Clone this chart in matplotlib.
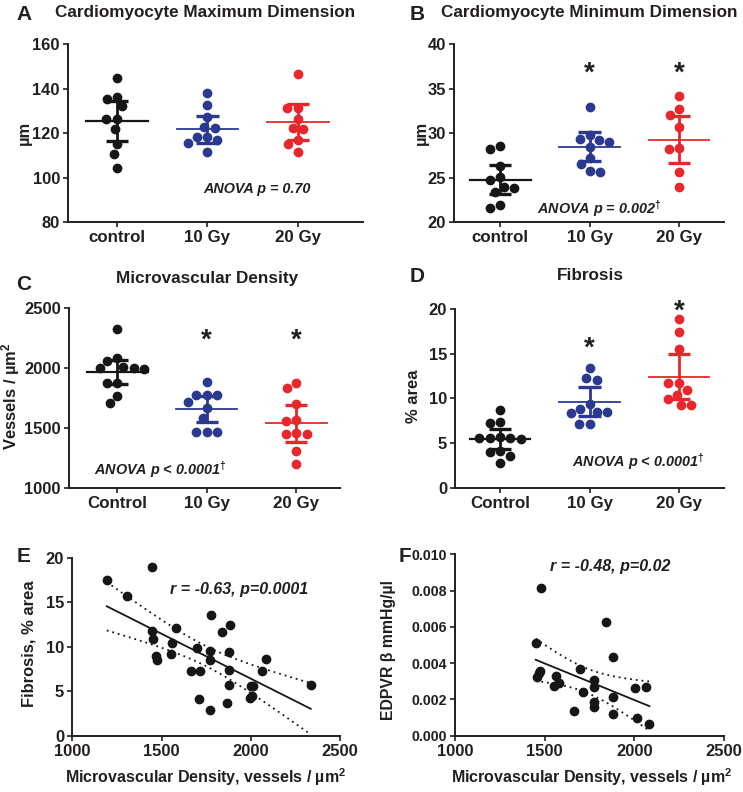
import numpy as np
import matplotlib
matplotlib.use("Agg")
import matplotlib.pyplot as plt

plt.rcParams["font.family"] = ["Liberation Sans", "DejaVu Sans"]
plt.rcParams["font.weight"] = "bold"
plt.rcParams["mathtext.fontset"] = "custom"
plt.rcParams["mathtext.rm"] = "Liberation Sans:bold"
plt.rcParams["mathtext.it"] = "Liberation Sans:bold:italic"
plt.rcParams["mathtext.bf"] = "Liberation Sans:bold"

INK = "#231f20"
BLACK, BLUE, RED = "#161616", "#2b3990", "#e8262b"
GROUP_COLORS = [BLACK, BLUE, RED]

# ---- panel A: cardiomyocyte maximum dimension (um)
a_control = [144.7, 136.5, 135.4, 132.4, 126.4, 126.4, 121.8, 115.2, 110.7, 104.3]
a_10gy = [138.0, 132.6, 127.5, 123.0, 122.2, 118.2, 117.0, 118.5, 115.5, 111.8]
a_20gy = [146.7, 131.5, 131.2, 126.3, 122.0, 122.2, 117.0, 115.0, 111.8]
a_mean = [125.5, 121.8, 125.2]
a_err = [9.1, 6.2, 8.0]

# ---- panel B: cardiomyocyte minimum dimension (um)
b_control = [28.2, 28.6, 26.3, 24.8, 25.1, 23.8, 24.0, 23.4, 21.6, 21.9]
b_10gy = [33.0, 29.2, 29.8, 29.4, 28.5, 29.0, 27.2, 26.6, 25.7, 25.8]
b_20gy = [34.2, 32.7, 32.1, 30.7, 28.3, 28.2, 25.6, 24.0]
b_mean = [24.8, 28.5, 29.3]
b_err = [1.65, 1.6, 2.6]

# ---- panel C: microvascular density (vessels / um2)
c_control = [2327, 2059, 2082, 1998, 1992, 1998, 2011, 1878, 1878, 1769, 1705]
c_10gy = [1881, 1772, 1772, 1775, 1719, 1663, 1580, 1468, 1468, 1468]
c_20gy = [1878, 1836, 1697, 1566, 1560, 1454, 1452, 1450, 1306, 1197]
c_mean = [1967, 1658, 1538]
c_err = [101, 108, 153]

# ---- panel D: fibrosis (% area)
d_control = [8.7, 7.3, 7.2, 5.6, 5.6, 5.6, 5.7, 5.4, 4.1, 4.0, 3.6, 2.8]
d_10gy = [13.44, 12.06, 12.32, 8.81, 9.37, 8.33, 8.51, 8.51, 7.13, 7.13]
d_20gy = [18.9, 17.4, 15.5, 11.7, 11.7, 10.9, 10.4, 9.9, 9.3, 9.2]
d_mean = [5.42, 9.63, 12.43]
d_err = [1.1, 1.62, 2.54]

# ---- panel E: fibrosis vs microvascular density
e_mvd = [1193, 1448, 1308, 1448, 1454, 1467, 1473, 1579, 1559, 1553, 1697,
         1664, 1716, 1708, 1776, 1837, 1884, 1772, 1772, 1876, 1876, 1876,
         1869, 1772, 2000, 2014, 1996, 2005, 2061, 2085, 2336]
e_fib = [17.49, 18.92, 15.70, 11.80, 10.90, 8.96, 8.51, 12.10, 10.45, 9.18,
         9.85, 7.30, 7.24, 4.09, 13.53, 11.69, 12.44, 9.48, 8.51, 9.40, 7.38,
         5.73, 3.64, 2.89, 5.58, 5.58, 4.27, 4.49, 7.24, 8.65, 5.66]

# ---- panel F: EDPVR beta vs microvascular density
f_mvd = [1477, 1841, 1449, 1880, 1697, 1473, 1468, 1455, 1561, 1553, 1581,
         1775, 1775, 1716, 1880, 2005, 2064, 1777, 1775, 1664, 1880, 2014, 2085]
f_edpvr = [0.00816, 0.00629, 0.00510, 0.00436, 0.00366, 0.00359, 0.00344,
           0.00325, 0.00329, 0.00276, 0.00292, 0.00307, 0.00270, 0.00243,
           0.00215, 0.00261, 0.00270, 0.00184, 0.00157, 0.00136, 0.00120,
           0.00099, 0.00063]

T_E, T_F = 2.045, 2.080   # two-sided 95% t quantiles, df = 29 and 21

W, H = 743, 792
fig = plt.figure(figsize=(W / 100, H / 100), dpi=100)


def axes_px(left, top, right, bottom):
    return fig.add_axes([left / W, 1 - bottom / H, (right - left) / W, (bottom - top) / H])


def style(ax):
    for s in ("top", "right"):
        ax.spines[s].set_visible(False)
    for s in ("left", "bottom"):
        ax.spines[s].set_linewidth(1.4)
        ax.spines[s].set_color(INK)
    ax.tick_params(direction="out", length=3.8, width=1.2, color=INK,
                   labelsize=11.9, labelcolor=INK, pad=2)


def swarm_offsets(ax, vals, diam_px=10.5):
    yp = ax.transData.transform(np.column_stack([np.zeros(len(vals)), vals]))[:, 1]
    ppu = ax.transData.transform((1, 0))[0] - ax.transData.transform((0, 0))[0]
    placed = []
    offs = np.zeros(len(vals))
    for i in np.argsort(-np.asarray(vals, float), kind="stable"):
        cands = [0.0]
        for px, py in placed:
            dy = yp[i] - py
            if abs(dy) < diam_px:
                dx = np.sqrt(diam_px ** 2 - dy ** 2)
                cands += [px - dx, px + dx]
        cands.sort(key=abs)
        for c in cands:
            if all((c - px) ** 2 + (yp[i] - py) ** 2 >= diam_px ** 2 - 1e-6 for px, py in placed):
                offs[i] = c
                placed.append((c, yp[i]))
                break
    return offs / ppu


def dot_panel(ax, groups, means, errs, labels, ylim, yticks, xlim):
    style(ax)
    ax.set_xlim(*xlim)
    ax.set_ylim(*ylim)
    ax.set_yticks(yticks)
    ax.set_xticks(range(len(labels)))
    ax.set_xticklabels(labels, fontsize=12.2)
    for i, (vals, m, e, col) in enumerate(zip(groups, means, errs, GROUP_COLORS)):
        xo = i + swarm_offsets(ax, vals)
        ax.plot(xo, vals, "o", ms=6.0, color=col, mec=col, zorder=3, clip_on=False)
        ax.plot([i - 0.34, i + 0.34], [m, m], color=col, lw=1.6 if i == 0 else 1.3, zorder=4)
        ax.plot([i, i], [m - e, m + e], color=col, lw=2.0, zorder=4)
        for yy in (m - e, m + e):
            ax.plot([i - 0.125, i + 0.125], [yy, yy], color=col, lw=2.4,
                    solid_capstyle="butt", zorder=4)


def star(ax, x, y):
    ax.annotate("*", (x, y), xytext=(0, -11.5), textcoords="offset points",
                ha="center", va="baseline", fontsize=20, color=INK,
                annotation_clip=False)


def fit_panel(ax, x, y, t):
    style(ax)
    x = np.asarray(x, float)
    y = np.asarray(y, float)
    n = len(x)
    b, a = np.polyfit(x, y, 1)
    xs = np.linspace(x.min(), x.max(), 120)
    yh = a + b * xs
    s = np.sqrt(np.sum((y - (a + b * x)) ** 2) / (n - 2))
    se = s * np.sqrt(1 / n + (xs - x.mean()) ** 2 / np.sum((x - x.mean()) ** 2))
    ax.plot(x, y, "o", ms=6.0, color=BLACK, zorder=3, clip_on=False)
    ax.plot(xs, yh, color=BLACK, lw=1.3, zorder=2)
    for band in (yh - t * se, yh + t * se):
        ax.plot(xs, band, color=BLACK, lw=1.3, ls=(0, (1, 2.2)), zorder=2)


# ---- A
axA = axes_px(68, 44.3, 363, 222.3)
dot_panel(axA, [a_control, a_10gy, a_20gy], a_mean, a_err,
          ["control", "10 Gy", "20 Gy"], (80, 160), range(80, 161, 20), (-0.54, 2.72))
axA.text(1.55, 95, "ANOVA p = 0.70", ha="center", va="center", fontsize=10.4,
         style="italic", color=INK)

# ---- B
axB = axes_px(453.7, 44.3, 723.7, 222.3)
dot_panel(axB, [b_control, b_10gy, b_20gy], b_mean, b_err,
          ["control", "10 Gy", "20 Gy"], (20, 40), range(20, 41, 5), (-0.52, 2.5))
axB.text(0.41, 21.5, "ANOVA p = 0.002$^{†}$", ha="left", va="center", fontsize=10.4,
         style="italic", color=INK)
star(axB, 1, 37.7)
star(axB, 2, 37.7)

# ---- C
axC = axes_px(69, 308.3, 340, 487.7)
dot_panel(axC, [c_control, c_10gy, c_20gy], c_mean, c_err,
          ["Control", "10 Gy", "20 Gy"], (1000, 2500), range(1000, 2501, 500), (-0.54, 2.49))
axC.text(-0.26, 1150, "ANOVA p < 0.0001$^{†}$", ha="left", va="center", fontsize=10.4,
         style="italic", color=INK)
star(axC, 1, 2304)
star(axC, 2, 2304)

# ---- D
axD = axes_px(455.3, 309, 723.7, 487.7)
dot_panel(axD, [d_control, d_10gy, d_20gy], d_mean, d_err,
          ["Control", "10 Gy", "20 Gy"], (0, 20), range(0, 21, 5), (-0.5, 2.5))
axD.text(0.80, 2.9, "ANOVA p < 0.0001$^{†}$", ha="left", va="center", fontsize=10.4,
         style="italic", color=INK)
star(axD, 1, 16.6)
star(axD, 2, 20.7)

# ---- E
axE = axes_px(72.3, 557.7, 340, 735.7)
fit_panel(axE, e_mvd, e_fib, T_E)
axE.set_xlim(1000, 2500)
axE.set_ylim(0, 20)
axE.set_xticks(range(1000, 2501, 500))
axE.set_yticks(range(0, 21, 5))
axE.text(1547, 16.4, "r = -0.63, p=0.0001", ha="left", va="center", fontsize=11.5,
         style="italic", color=INK)

# ---- F
axF = axes_px(455.3, 554.3, 723.7, 735.7)
fit_panel(axF, f_mvd, f_edpvr, T_F)
axF.set_xlim(1000, 2500)
axF.set_ylim(0, 0.010)
axF.set_xticks(range(1000, 2501, 500))
axF.set_yticks(np.arange(0, 0.0101, 0.002))
axF.yaxis.set_major_formatter(matplotlib.ticker.FormatStrFormatter("%.3f"))
axF.tick_params(axis="y", labelsize=10.2)
axF.text(1529, 0.0093, "r = -0.48, p=0.02", ha="left", va="center", fontsize=11.5,
         style="italic", color=INK)


def ftext(x, y, s, **kw):
    kw.setdefault("color", INK)
    fig.text(x / W, 1 - y / H, s, ha="center", va="center", **kw)


# panel letters
for lx, ly, lab in [(24, 15, "A"), (417, 15, "B"), (24, 284, "C"), (417, 276, "D"),
                    (24, 557, "E"), (405, 557, "F")]:
    ftext(lx, ly, lab, fontsize=15)

# titles
ftext(205, 12, "Cardiomyocyte Maximum Dimension", fontsize=12.3)
ftext(589, 12, "Cardiomyocyte Minimum Dimension", fontsize=12.3)
ftext(207, 278, "Microvascular Density", fontsize=12.3)
ftext(590, 275, "Fibrosis", fontsize=12.3)

# axis labels
ftext(24, 133, "µm", fontsize=11.9, rotation=90)
ftext(421, 133, "µm", fontsize=11.9, rotation=90)
ftext(11, 396, "Vessels / µm$^{2}$", fontsize=11.9, rotation=90)
ftext(414, 396, "% area", fontsize=11.9, rotation=90)
ftext(29, 644, "Fibrosis, % area", fontsize=11.9, rotation=90)
ftext(389, 650, "EDPVR β mmHg/µl", fontsize=11.4, rotation=90)
ftext(206, 777, "Microvascular Density, vessels / µm$^{2}$", fontsize=11.5)
ftext(592, 777, "Microvascular Density, vessels / µm$^{2}$", fontsize=11.5)

fig.savefig("out.png", dpi=100, facecolor="white")
